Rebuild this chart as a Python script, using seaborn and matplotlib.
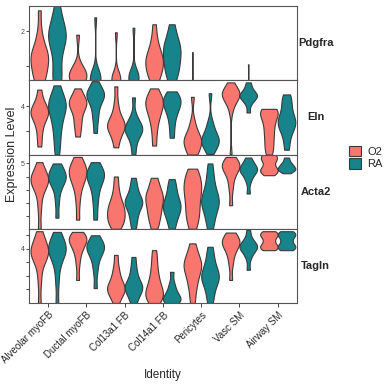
import pandas as pd
import seaborn as sns
import matplotlib.pyplot as plt
from matplotlib.patches import Patch

# -------------------------------
# Data
# -------------------------------
identities = ["Alveolar myoFB", "Ductal myoFB", "Col13a1 FB", "Col14a1 FB",
              "Pericytes", "Vasc SM", "Airway SM"]
conditions = ["O2", "RA"]
genes = ["Pdgfra", "Eln", "Acta2", "Tagln"]

pdgfra_o2 = [
    [0] * 2 + [0.6, 0.65, 0.7, 0.9, 1.0, 1.1, 1.2, 1.3, 1.3, 1.4, 1.5, 1.7, 2.0, 2.6],
    [0] * 6 + [0.6, 0.62, 0.65, 0.7, 0.75, 0.8, 0.9, 1.0, 1.9],
    [0] * 10 + [0.6, 0.62, 0.64, 0.66, 0.7, 1.97],
    [0] * 2 + [0.6, 0.7, 0.8, 0.9, 1.0, 1.1, 1.2, 1.2, 1.3, 1.4, 1.6, 1.8, 2.2],
    [0] * 30 + [1.4],
    [0, 0.1, 0.2],
    [0, 0.1, 0.2],
]
pdgfra_ra = [
    [0] * 2 + [0.6, 0.65, 0.8, 1.1, 1.4, 1.6, 1.7, 1.8, 1.9, 1.9, 2.0, 2.1, 2.3, 2.5, 2.75],
    [0] * 10 + [0.6, 0.62, 0.65, 0.68, 0.72, 0.78, 2.4],
    [0] * 10 + [0.6, 0.62, 0.65, 0.7, 0.75, 0.8, 2.1],
    [0] * 2 + [0.6, 0.8, 0.9, 1.0, 1.2, 1.3, 1.4, 1.5, 1.6, 1.7, 1.9, 2.2],
    [0, 0.1, 0.2],
    [0] * 30 + [1.05],
    [0, 0.1, 0.2],
]
eln_o2 = [
    [0.67, 1.5, 2.2, 2.7, 3.0, 3.3, 3.5, 3.5, 3.7, 3.9, 4.2, 4.6, 5.4],
    [1.5, 2.3, 2.8, 3.4, 3.8, 4.1, 4.3, 4.4, 4.6, 4.9, 5.5],
    [0.6, 1.3, 1.8, 2.1, 2.3, 2.4, 2.5, 2.7, 3.0, 3.5, 4.3, 5.67],
    [0.75, 1.8, 2.6, 3.1, 3.5, 3.8, 4.1, 4.3, 4.5, 4.7, 5.0, 5.5],
    [0, 0, 0.4, 0.7, 0.9, 1.1, 1.2, 1.3, 1.5, 1.8, 2.2, 2.8, 4.8],
    [0, 3.6, 4.2, 4.6, 4.8, 4.9, 5.0, 5.0, 5.1, 5.1, 5.2, 5.3, 5.5, 6.0],
    [0, 0.3, 0.7, 1.0, 1.4, 1.7, 2.0, 2.3, 2.6, 2.9, 3.1, 3.3, 3.5, 3.6, 3.7, 3.75, 3.8],
]
eln_ra = [
    [0, 0.8, 1.5, 2.1, 2.6, 3.0, 3.4, 3.7, 3.9, 4.1, 4.3, 4.5, 4.8, 5.2, 5.75],
    [1.8, 2.8, 3.4, 4.0, 4.4, 4.7, 4.9, 5.0, 5.1, 5.3, 5.6, 6.1],
    [0, 0.8, 1.4, 1.7, 1.9, 2.1, 2.2, 2.3, 2.5, 2.8, 3.3, 4.75],
    [1.4, 2.3, 3.0, 3.5, 3.8, 4.1, 4.3, 4.5, 4.7, 4.9, 5.25],
    [0.05, 0.5, 0.8, 1.0, 1.1, 1.2, 1.3, 1.5, 1.8, 2.3, 2.7, 5.1],
    [3.5, 4.2, 4.5, 4.7, 4.8, 4.9, 5.0, 5.1, 5.3, 5.6, 6.0],
    [0.4, 1.2, 1.8, 2.2, 2.4, 2.6, 2.8, 3.0, 3.3, 3.7, 4.2, 4.6, 5.0],
]
acta2_o2 = [
    [0, 1.5, 2.5, 3.1, 3.4, 3.6, 3.7, 3.8, 4.0, 4.2, 4.5, 5.1],
    [0.7, 2.0, 2.9, 3.4, 3.8, 4.0, 4.2, 4.4, 4.6, 4.8, 5.0, 5.5],
    [0, 0.3, 0.5, 0.7, 0.9, 1.1, 1.3, 1.5, 1.7, 1.9, 2.2, 2.6, 3.2, 4.0],
    [0, 0.5, 0.9, 1.2, 1.5, 1.8, 2.1, 2.3, 2.5, 2.7, 3.0, 3.4, 3.9],
    [0, 0.6, 1.0, 1.4, 1.8, 2.2, 2.6, 2.9, 3.2, 3.5, 3.8, 4.2, 4.6],
    [1.8, 3.0, 3.7, 4.2, 4.5, 4.7, 4.8, 4.9, 5.0, 5.2, 5.5],
    [4.1, 4.3, 4.4, 4.5, 4.6, 4.8, 5.1, 5.3, 5.4, 5.5, 5.7, 5.9],
]
acta2_ra = [
    [0.85, 2.0, 2.8, 3.3, 3.6, 3.8, 3.9, 4.0, 4.2, 4.4, 4.7, 5.0],
    [0.7, 1.8, 2.6, 3.2, 3.6, 3.9, 4.1, 4.2, 4.4, 4.6, 5.1],
    [0, 0.6, 1.0, 1.4, 1.7, 1.9, 2.0, 2.1, 2.3, 2.5, 2.9, 3.3, 3.9],
    [0, 0.5, 0.9, 1.2, 1.4, 1.6, 1.8, 2.0, 2.2, 2.5, 2.9, 3.3, 3.8],
    [0, 0.6, 1.1, 1.5, 1.8, 2.0, 2.2, 2.4, 2.7, 3.1, 3.6, 4.2, 5.0],
    [2.7, 3.6, 4.0, 4.3, 4.4, 4.5, 4.6, 4.7, 4.9, 5.1, 5.45],
    [4.25, 4.4, 4.5, 4.55, 4.6, 4.7, 4.8, 4.9, 5.0, 5.2, 5.45],
]
tagln_o2 = [
    [0, 1.5, 2.5, 3.1, 3.4, 3.6, 3.7, 3.8, 4.0, 4.2, 4.5, 4.8, 5.3],
    [1.7, 2.8, 3.5, 3.9, 4.2, 4.4, 4.6, 4.7, 4.8, 4.9, 5.0, 5.25],
    [0, 0.4, 0.7, 0.9, 1.0, 1.1, 1.3, 1.5, 1.8, 2.2, 2.7, 3.55],
    [0, 0.2, 0.4, 0.6, 0.7, 0.9, 1.1, 1.4, 1.7, 2.1, 2.6, 3.2, 3.9],
    [0, 0.8, 1.4, 1.8, 2.2, 2.5, 2.7, 2.9, 3.1, 3.4, 3.8, 4.4],
    [1.7, 2.8, 3.4, 3.8, 4.1, 4.3, 4.4, 4.5, 4.6, 4.8, 5.0, 5.2],
    [3.9, 4.0, 4.1, 4.2, 4.3, 4.5, 4.7, 4.9, 5.0, 5.1, 5.2, 5.3],
]
tagln_ra = [
    [0, 1.5, 2.5, 3.1, 3.5, 3.7, 3.9, 4.0, 4.1, 4.3, 4.6, 4.9, 5.25],
    [1.1, 2.3, 3.0, 3.5, 3.8, 4.0, 4.1, 4.2, 4.4, 4.6, 5.0],
    [0, 0.4, 0.7, 0.9, 1.1, 1.2, 1.3, 1.5, 1.8, 2.2, 2.7, 3.4],
    [0, 0.1, 0.2, 0.3, 0.4, 0.6, 0.8, 1.1, 1.5, 2.3],
    [0, 0.6, 1.1, 1.5, 1.7, 1.9, 2.1, 2.3, 2.6, 3.0, 3.5, 4.15],
    [2.45, 3.3, 3.7, 3.9, 4.1, 4.15, 4.2, 4.3, 4.5, 4.8, 5.4],
    [3.9, 4.0, 4.1, 4.2, 4.3, 4.5, 4.7, 4.9, 5.0, 5.1, 5.2, 5.3],
]

gene_data = {
    "Pdgfra": (pdgfra_o2, pdgfra_ra),
    "Eln": (eln_o2, eln_ra),
    "Acta2": (acta2_o2, acta2_ra),
    "Tagln": (tagln_o2, tagln_ra),
}
y_limits = {"Pdgfra": (0.59, 2.72), "Eln": (0, 6.17), "Acta2": (0, 5.68), "Tagln": (0, 5.48)}
y_ticks = {"Pdgfra": [1, 2], "Eln": [2, 4], "Acta2": [1, 2, 3, 4, 5], "Tagln": [1, 2, 3, 4, 5]}
y_label_tick = {"Pdgfra": 2, "Eln": 4, "Acta2": 5, "Tagln": 4}

palette = {"O2": "#F8766D", "RA": "#17838A"}

# -------------------------------
# Plot
# -------------------------------
sns.set_style("white")
plt.rcParams["font.family"] = ["Liberation Sans", "DejaVu Sans"]

fig, axes = plt.subplots(4, 1, sharex=True, figsize=(3.84, 3.84), dpi=100)
fig.subplots_adjust(left=0.0755, right=0.773, top=0.984, bottom=0.211, hspace=0)

for ax, gene in zip(axes, genes):
    rows = []
    for cond, series in zip(conditions, gene_data[gene]):
        for ident, vals in zip(identities, series):
            for v in vals:
                rows.append({"Identity": ident, "Condition": cond, "value": v})
    df = pd.DataFrame(rows)

    sns.violinplot(data=df, x="Identity", y="value", hue="Condition",
                   order=identities, hue_order=conditions, palette=palette,
                   density_norm="width", cut=0, inner=None, width=0.92,
                   bw_adjust=0.7, linewidth=0.8, linecolor="#3a3a3a",
                   saturation=1, legend=False, ax=ax)

    ax.set_ylim(*y_limits[gene])
    ax.set_yticks(y_ticks[gene])
    ax.set_yticklabels([str(t) if t == y_label_tick[gene] else "" for t in y_ticks[gene]],
                       fontsize=5, color="#444444")
    ax.tick_params(axis="y", length=2, width=0.6, pad=1, left=True)
    ax.set_ylabel("")
    ax.set_xlabel("")
    for s in ax.spines.values():
        s.set_color("#555555")
        s.set_linewidth(0.8)
    ax.text(1.071, 0.5, gene, transform=ax.transAxes, ha="center", va="center",
            fontsize=8, fontweight="bold")

axes[-1].tick_params(axis="x", length=3, width=0.6, bottom=True, pad=2)
axes[-1].set_xticks(range(len(identities)))
axes[-1].set_xticklabels(identities, rotation=45, ha="right",
                         rotation_mode="anchor", fontsize=7)
axes[-1].set_xlabel("")

fig.text(163 / 384, 1 - 375 / 384, "Identity", ha="center", va="center", fontsize=8.5)
fig.text(12 / 384, 1 - 154 / 384, "Expression Level", rotation=90,
         ha="center", va="center", fontsize=9)

handles = [Patch(facecolor=palette[c], edgecolor="#3a3a3a", linewidth=0.8, label=c)
           for c in conditions]
fig.legend(handles=handles, loc="center left", bbox_to_anchor=(0.895, 0.59),
           frameon=False, fontsize=8, handlelength=1.1, handleheight=1.1,
           handletextpad=0.5, borderpad=0, labelspacing=0.1)

plt.savefig("out.png", dpi=100)
plt.close()
